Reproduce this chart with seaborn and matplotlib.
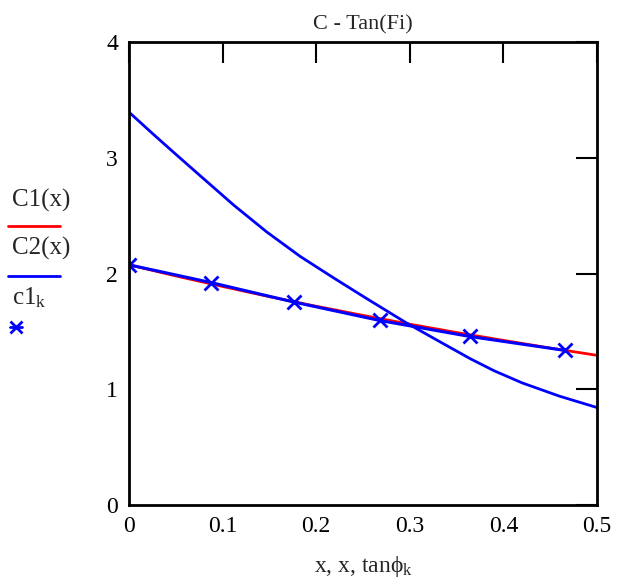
import numpy as np
import pandas as pd
import seaborn as sns
import matplotlib.pyplot as plt
from matplotlib.lines import Line2D

# data
x_c1 = [0, 0.05, 0.1, 0.15, 0.2, 0.25, 0.3, 0.35, 0.4, 0.45, 0.5]
y_c1 = [2.075, 1.979, 1.888, 1.800, 1.717, 1.638, 1.562, 1.490, 1.422, 1.356, 1.293]

x_c2 = [0, 0.025, 0.05, 0.076, 0.112, 0.147, 0.183, 0.219, 0.253, 0.296,
        0.33, 0.365, 0.39, 0.42, 0.46, 0.5]
y_c2 = [3.394, 3.21, 3.03, 2.845, 2.59, 2.36, 2.147, 1.960, 1.788, 1.575,
        1.42, 1.262, 1.16, 1.055, 0.94, 0.842]

tan_phi_k = [0, 0.0875, 0.1763, 0.2679, 0.364, 0.4663]
c1_k = [2.075, 1.922, 1.753, 1.594, 1.456, 1.335]

x_ticks = [0, 0.1, 0.2, 0.3, 0.4, 0.5]
y_ticks = [0, 1, 2, 3, 4]

sns.set_style("white")
plt.rcParams['font.family'] = ['Liberation Serif', 'DejaVu Serif']
plt.rcParams['mathtext.fontset'] = 'custom'
plt.rcParams['mathtext.rm'] = 'Liberation Serif'
plt.rcParams['mathtext.it'] = 'Liberation Serif'

fig = plt.figure(figsize=(6.18, 5.83), dpi=100)
ax = fig.add_axes([129 / 618, 1 - 505 / 583, 468 / 618, 463 / 583])

df1 = pd.DataFrame({"x": x_c1, "y": y_c1})
df2 = pd.DataFrame({"x": x_c2, "y": y_c2})
dk = pd.DataFrame({"x": tan_phi_k, "y": c1_k})

sns.lineplot(data=df1, x="x", y="y", ax=ax, color="#ff0000", lw=2, sort=False)
sns.lineplot(data=df2, x="x", y="y", ax=ax, color="#0000ff", lw=2, sort=False)
sns.lineplot(data=dk, x="x", y="y", ax=ax, color="#0000ff", lw=2.2, sort=False,
             marker="x", markersize=10, markeredgewidth=2, markeredgecolor="#0000ff")

ax.set_xlim(0, 0.5)
ax.set_ylim(0, 4)
ax.set_xticks(x_ticks)
ax.set_xticklabels(["0", "0.1", "0.2", "0.3", "0.4", "0.5"])
ax.set_yticks(y_ticks)
ax.tick_params(direction="in", length=15, width=1.5, top=True, right=True,
               labelsize=17, pad=8, colors="black")
for s in ax.spines.values():
    s.set_linewidth(2)
    s.set_color("black")

ax.set_title("C - Tan(Fi)", fontsize=16, pad=9)
ax.set_xlabel("x, x, tanϕ$_{\\mathrm{k}}$", fontsize=17, labelpad=12)
ax.set_ylabel("")

# Mathcad-style legend on the left
fig.text(12 / 618, 1 - 200 / 583, "C1(x)", fontsize=18, va="center", ha="left")
fig.add_artist(Line2D([8 / 618, 60 / 618], [1 - 226 / 583] * 2, color="#ff0000", lw=2))
fig.text(12 / 618, 1 - 248 / 583, "C2(x)", fontsize=18, va="center", ha="left")
fig.add_artist(Line2D([8 / 618, 60 / 618], [1 - 276 / 583] * 2, color="#0000ff", lw=2))
fig.text(12 / 618, 1 - 298 / 583, "c1$_{\\mathrm{k}}$", fontsize=18, va="center", ha="left")
fig.add_artist(Line2D([16 / 618], [1 - 327 / 583], color="#0000ff", marker="x",
                      markersize=8, markeredgewidth=2, lw=0))
fig.add_artist(Line2D([10 / 618, 22 / 618], [1 - 327 / 583] * 2, color="#0000ff", lw=2))

plt.savefig("out.png", dpi=100)
